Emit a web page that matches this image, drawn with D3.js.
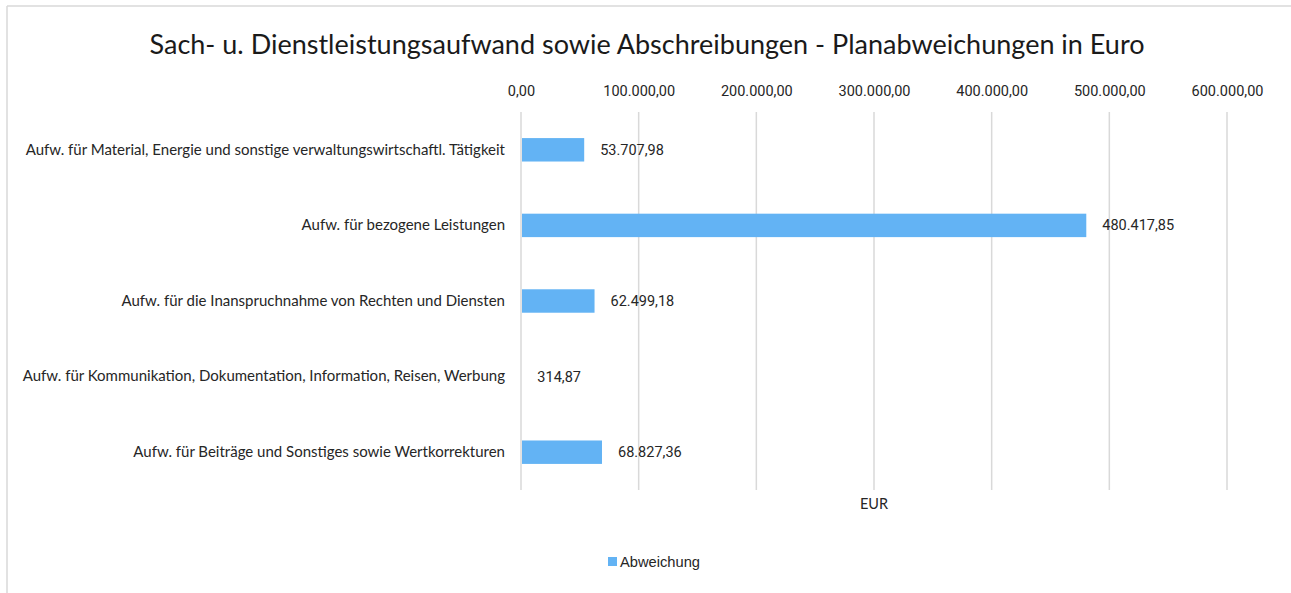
<!DOCTYPE html>
<html><head><meta charset="utf-8">
<script src="https://cdn.jsdelivr.net/npm/d3@7"></script>
<style>body{margin:0;background:#fff}svg{display:block}</style>
</head><body>
<svg id="c" width="1291" height="593"></svg>
<script>
const categories = [
  "Aufw. für Material, Energie und sonstige verwaltungswirtschaftl. Tätigkeit",
  "Aufw. für bezogene Leistungen",
  "Aufw. für die Inanspruchnahme von Rechten und Diensten",
  "Aufw. für Kommunikation, Dokumentation, Information, Reisen, Werbung",
  "Aufw. für Beiträge und Sonstiges sowie Wertkorrekturen"
];
const values = [53707.98, 480417.85, 62499.18, 314.87, 68827.36];
const tickValues = [0, 100000, 200000, 300000, 400000, 500000, 600000];
const seriesName = "Abweichung";
const title = "Sach- u. Dienstleistungsaufwand sowie Abschreibungen - Planabweichungen in Euro";
const axisTitle = "EUR";

const de = d3.formatLocale({decimal: ",", thousands: ".", grouping: [3], currency: ["", " €"]});
const fmt = de.format(",.2f");

const svg = d3.select("#c");
// frame
svg.append("line").attr("x1",7).attr("x2",1291).attr("y1",6).attr("y2",6).attr("stroke","#d9d9d9").attr("stroke-width",1.5);
svg.append("line").attr("x1",7).attr("x2",7).attr("y1",6).attr("y2",593).attr("stroke","#d9d9d9").attr("stroke-width",1.5);

const x = d3.scaleLinear().domain([0, 600000]).range([521, 1227]);
const y = d3.scaleBand().domain(categories).range([112, 490]).paddingInner(0.69).paddingOuter(0.345);

svg.append("text").attr("x",647).attr("y",54).attr("text-anchor","middle")
  .attr("font-family","Lato, sans-serif").attr("font-size",27).attr("fill","#1a1a1a")
  .attr("textLength",995).attr("lengthAdjust","spacingAndGlyphs").text(title);

// gridlines
svg.append("g").selectAll("line").data(tickValues).join("line")
  .attr("x1",d=>x(d)).attr("x2",d=>x(d)).attr("y1",112).attr("y2",490)
  .attr("stroke","#d9d9d9").attr("stroke-width",1.5);

// top axis labels
const ax = d3.axisTop(x).tickValues(tickValues).tickFormat(fmt).tickSize(0).tickPadding(0);
const axg = svg.append("g").attr("transform","translate(0,96)").call(ax);
axg.select(".domain").remove();
axg.selectAll("text").attr("font-family","Roboto, sans-serif").attr("font-size",14.5).attr("fill","#262626");

// bars
svg.append("g").selectAll("rect").data(values).join("rect")
  .attr("x", x(0)+1).attr("y",(d,i)=>y(categories[i]))
  .attr("width", d=>Math.max(0, x(d)-x(0)-1)).attr("height", y.bandwidth())
  .attr("fill","#63b3f4");

// value labels
svg.append("g").selectAll("text").data(values).join("text")
  .attr("x", d=>x(d)+16).attr("y",(d,i)=>y(categories[i])+y.bandwidth()/2)
  .attr("dy","0.35em").attr("font-family","Roboto, sans-serif").attr("font-size",14.5).attr("fill","#262626")
  .text(d=>fmt(d));

// category labels
const ay = d3.axisLeft(y).tickSize(0).tickPadding(0);
const ayg = svg.append("g").attr("transform","translate(505,0)").call(ay);
ayg.select(".domain").remove();
ayg.selectAll("text").attr("font-family","Lato, sans-serif").attr("font-size",15).attr("fill","#262626");

// axis title
svg.append("text").attr("x",874).attr("y",509).attr("text-anchor","middle")
  .attr("font-family","Lato, sans-serif").attr("font-size",14.5).attr("fill","#262626").text(axisTitle);

// legend
svg.append("rect").attr("x",608).attr("y",557).attr("width",9).attr("height",9).attr("fill","#63b3f4");
svg.append("text").attr("x",620).attr("y",562).attr("dy","0.35em")
  .attr("font-family","Liberation Sans, Arial, sans-serif").attr("font-size",14.7).attr("fill","#262626").text(seriesName);
</script>
</body></html>
